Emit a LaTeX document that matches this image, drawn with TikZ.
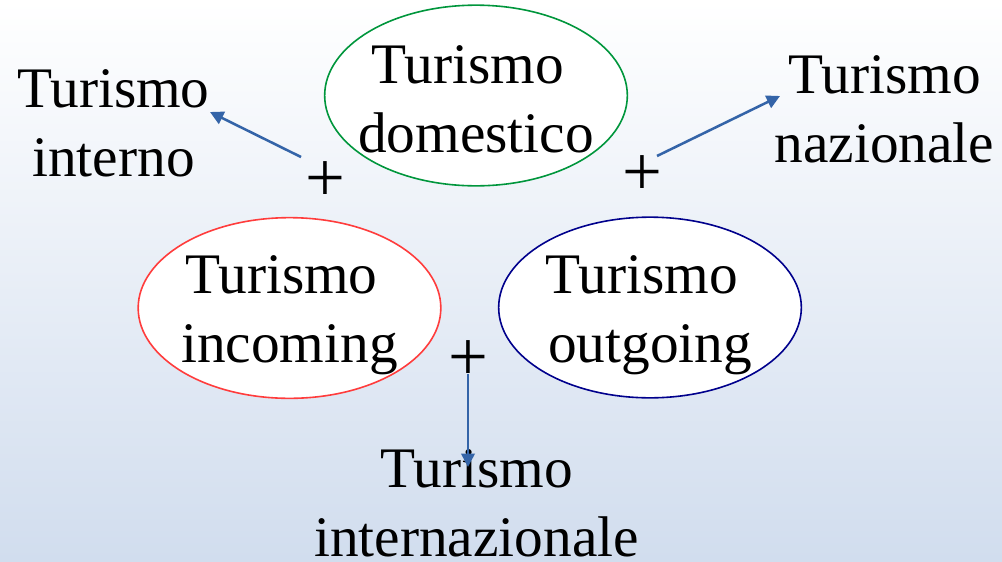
\documentclass[tikz,border=0pt]{standalone}
\usepackage{fontspec}
\setmainfont{Liberation Serif}
\usetikzlibrary{shapes.geometric,arrows.meta}
\definecolor{bgblue}{RGB}{209,221,238}
\definecolor{egreen}{RGB}{0,150,60}
\definecolor{ered}{RGB}{255,60,60}
\definecolor{eblue}{RGB}{0,0,140}
\definecolor{arrblue}{RGB}{52,100,168}
\newcommand{\twolines}[2]{\vtop{\halign{\hfil##\hfil\cr #1\cr #2\cr}}}
\tikzset{
  oval/.style={ellipse, draw, fill=white, line width=1.2pt, inner sep=0pt,
    minimum width=227pt, minimum height=135.5pt},
  lbl/.style={anchor=base, inner sep=0pt, font=\fontsize{43}{52}\selectfont},
  plus/.style={inner sep=0pt, font=\fontsize{53}{60}\selectfont},
  arr/.style={draw=arrblue, line width=1.9pt, -{Triangle[length=10pt,width=10pt]}}
}
\begin{document}
\begin{tikzpicture}[x=0.75pt,y=0.75pt]
\shade[top color=white, bottom color=bgblue] (0,0) rectangle (1002,-561);
% ellipses
\node[oval, draw=egreen] (edom) at (476,-95.5) {};
\node[oval, draw=ered]   (einc) at (289.5,-308) {};
\node[oval, draw=eblue]  (eout) at (650,-307.5) {};
% ellipse texts
\node[lbl] (tdom) at (476,-83) {\twolines{Turismo\kern.28em}{domestico}};
\node[lbl] (tinc) at (289.5,-293) {\twolines{Turismo\kern.28em}{incoming}};
\node[lbl] (tout) at (650,-293) {\twolines{Turismo\kern.28em}{outgoing}};
% outer labels
\node[lbl] (tint) at (113.5,-107) {\twolines{Turismo}{interno}};
\node[lbl] (tnaz) at (884.5,-93) {\twolines{Turismo}{nazionale}};
\node[lbl] (tinz) at (476.5,-487) {\twolines{Turismo}{internazionale}};
% plus signs
\node[plus] (p1) at (325,-182) {+};
\node[plus] (p2) at (642,-176) {+};
\node[plus] (p3) at (468,-361) {+};
% arrow ends
\coordinate (a1s) at (301,-157);
\coordinate (a1e) at (210,-112);
\coordinate (a2s) at (657,-156);
\coordinate (a2e) at (780,-96);
\coordinate (a3s) at (468,-374);
\coordinate (a3e) at (468,-467);
\draw[arr] (a1s) -- (a1e);
\draw[arr] (a2s) -- (a2e);
\draw[arr] (a3s) -- (a3e);
\end{tikzpicture}
\end{document}
